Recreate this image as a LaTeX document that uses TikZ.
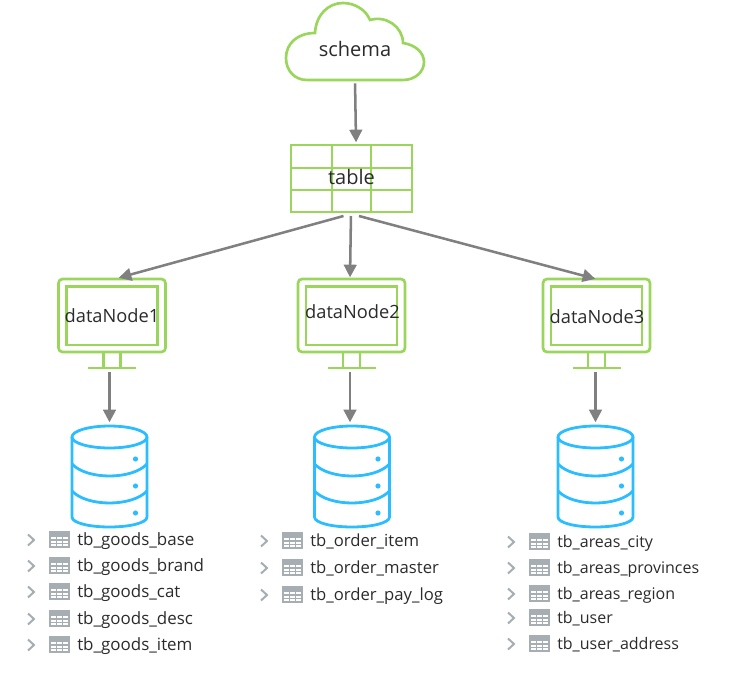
\documentclass[tikz,border=0pt]{standalone}
\usepackage{fontspec}
\setmainfont{Open Sans}
\usetikzlibrary{arrows.meta}
\definecolor{lime}{HTML}{9AD65C}
\definecolor{sky}{HTML}{2BBDFF}
\definecolor{conn}{HTML}{808080}
\definecolor{ink}{HTML}{2B2B2B}
\definecolor{icon}{HTML}{A6AEB4}
\tikzset{
  px/.style={x=0.75pt,y=-0.75pt},
  conline/.style={draw=conn,line width=1.9pt,-{Triangle[width=9.5pt,length=9.5pt]}},
  limeline/.style={draw=lime,line width=2pt},
  skyline/.style={draw=sky,line width=2.1pt},
  biglabel/.style={font=\fontsize{15pt}{17pt}\selectfont,text=ink,inner sep=0pt},
  nodelabel/.style={font=\fontsize{13.7pt}{16pt}\selectfont,text=ink,inner sep=0pt},
  listlabel/.style={text=ink,anchor=base west,inner sep=0pt},
  holder/.style={inner sep=0pt,outer sep=0pt,rectangle},
}
% monitor: name, screen centre x, label x, label y
\newcommand{\monitorbox}[4]{%
  \draw[limeline,rounded corners=3pt] (#2-53.5,279) rectangle (#2+53.5,352);
  \draw[limeline] (#2-45.5,286.5) rectangle (#2+45.5,345);
  \draw[limeline] (#2-8.5,352) -- (#2-8.5,368) (#2+8.5,352) -- (#2+8.5,368);
  \node[holder,minimum width=36pt,minimum height=2pt,fill=lime] (#1) at (#2,368) {};
  \node[nodelabel] (#1label) at (#3,#4) {#1};
}
% cylinder: name, centre x
\newcommand{\dbcyl}[2]{%
  \node[holder,minimum width=57pt,minimum height=76pt] (#1) at (#2,477) {};
  \draw[skyline] (#2,437) ellipse (37.5 and 11);
  \draw[skyline] (#2-37.5,437) -- (#2-37.5,517)
     .. controls (#2-37.5,523) and (#2-20,527) .. (#2,527)
     .. controls (#2+20,527) and (#2+37.5,523) .. (#2+37.5,517) -- (#2+37.5,437);
  \draw[skyline] (#2-37.5,464) .. controls (#2-30,472) and (#2-15,476) .. (#2,476)
     .. controls (#2+15,476) and (#2+30,472) .. (#2+37.5,464);
  \draw[skyline] (#2-37.5,491) .. controls (#2-30,499) and (#2-15,503) .. (#2,503)
     .. controls (#2+15,503) and (#2+30,499) .. (#2+37.5,491);
  \fill[sky] (#2+26,459) circle (2.6) (#2+26,486) circle (2.6) (#2+26,513) circle (2.6);
}
% list row: name, chevron x, row y, font size, text
\newcommand{\tabrow}[5]{%
  \draw[icon,line width=1.5pt] (#2-3,#3-5.5) -- (#2+3,#3) -- (#2-3,#3+5.5);
  \fill[icon] (#2+19,#3-8) rectangle (#2+38,#3-3);
  \draw[icon,line width=0.9pt] (#2+19,#3-8) rectangle (#2+38,#3+7)
     (#2+19,#3) -- (#2+38,#3) (#2+19,#3+3.5) -- (#2+38,#3+3.5)
     (#2+25.3,#3-3) -- (#2+25.3,#3+7) (#2+31.6,#3-3) -- (#2+31.6,#3+7);
  \node[listlabel,font=\fontsize{#4pt}{14pt}\selectfont] (#1) at (#2+46,#3+5) {#5};
}
\begin{document}
\begin{tikzpicture}[px]
\useasboundingbox (0,0) rectangle (751,692);
% cloud
\draw[limeline,fill=white] (307,80) .. controls (294,80) and (286,70) .. (286,58)
   .. controls (286,43) and (298,33) .. (315,33)
   .. controls (316,15) and (328,3) .. (343,3)
   .. controls (355,3) and (366,10) .. (370,20)
   .. controls (386,15) and (403,27) .. (403,43)
   .. controls (416,45) and (424,53) .. (424,62)
   .. controls (424,72) and (415,80) .. (403,80) -- cycle;
\node[biglabel] (schema) at (355,49) {schema};
\node[holder,minimum width=1pt,minimum height=1pt] (cloudbottom) at (355,80) {};
% table
\node[holder,draw=lime,line width=2pt,minimum width=90.75pt,minimum height=50.25pt] (tablebox) at (351.5,178.5) {};
\draw[limeline] (332,145) -- (332,212) (371,145) -- (371,212) (291,168) -- (412,168) (291,190) -- (412,190);
\node[biglabel] (table) at (351.5,177) {table};
% monitors
\monitorbox{dataNode1}{112}{112}{316}
\monitorbox{dataNode2}{351.5}{352.5}{312}
\monitorbox{dataNode3}{596.5}{597}{317}
\node[holder,minimum width=1pt,minimum height=1pt] (dn1top) at (118,278) {};
\node[holder,minimum width=1pt,minimum height=1pt] (dn2top) at (350,278) {};
\node[holder,minimum width=1pt,minimum height=1pt] (dn3top) at (596,279) {};
% databases
\dbcyl{db1}{109.5}
\dbcyl{db2}{352}
\dbcyl{db3}{595.5}
% connectors
\draw[conline,shorten <=2pt] (cloudbottom.south) -- ([xshift=3.4pt,yshift=2pt]tablebox.north);
\draw[conline] ([xshift=-6pt,yshift=-3pt]tablebox.south) -- (dn1top);
\draw[conline] ([xshift=-0.4pt,yshift=-3pt]tablebox.south) -- (dn2top);
\draw[conline] ([xshift=5.6pt,yshift=-3pt]tablebox.south) -- (dn3top);
\draw[conline,shorten <=2pt,shorten >=3pt] (dataNode1.south -| db1.north) -- (db1.north);
\draw[conline,shorten <=2pt,shorten >=3pt] ([xshift=-1.5pt]dataNode2.south -| db2.north) -- ([xshift=-1.5pt]db2.north);
\draw[conline,shorten <=2pt,shorten >=3pt] (dataNode3.south -| db3.north) -- (db3.north);
% lists
\tabrow{g1}{31}{540}{12.7}{tb\_goods\_base}
\tabrow{g2}{31}{566}{12.7}{tb\_goods\_brand}
\tabrow{g3}{31}{592}{12.7}{tb\_goods\_cat}
\tabrow{g4}{31}{619}{12.7}{tb\_goods\_desc}
\tabrow{g5}{31}{645}{12.7}{tb\_goods\_item}
\tabrow{o1}{264}{541}{12.5}{tb\_order\_item}
\tabrow{o2}{264}{568}{12.5}{tb\_order\_master}
\tabrow{o3}{264}{595}{12.5}{tb\_order\_pay\_log}
\tabrow{a1}{511}{542}{12}{tb\_areas\_city}
\tabrow{a2}{511}{568}{12}{tb\_areas\_provinces}
\tabrow{a3}{511}{594}{12}{tb\_areas\_region}
\tabrow{a4}{511}{618}{12}{tb\_user}
\tabrow{a5}{511}{644}{12}{tb\_user\_address}
\end{tikzpicture}
\end{document}
